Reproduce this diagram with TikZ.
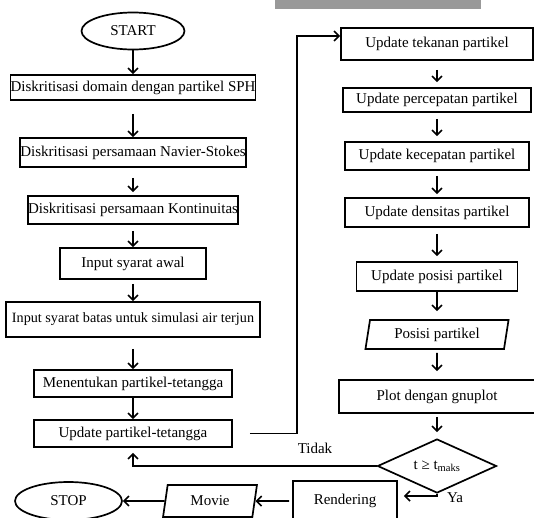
\documentclass[tikz,border=0pt]{standalone}
\usepackage{fontspec}
\setmainfont{Liberation Serif}
\usepackage{tikz}
\usetikzlibrary{positioning}
\usetikzlibrary{arrows.meta}
\usetikzlibrary{shapes.geometric}
\tikzset{%
  processBox/.style={rectangle, draw=black, line width=1.7pt, inner sep=0pt, align=center},
  %
  terminal/.style={ellipse, draw=black, line width=1.7pt, inner sep=0pt, align=center},
  ioBox/.style={trapezium, trapezium left angle=78, trapezium right angle=102, trapezium stretches=true, draw=black, line width=1.7pt, inner sep=0pt, align=center},
  decision/.style={diamond, aspect=2.2, draw=black, line width=1.7pt, inner sep=0pt, align=center},
  % ---
  % connectors
  % ---
  flow/.style={line width=1.6pt, -{Straight Barb[length=5pt,width=10pt]}},
  answer/.style={inner sep=0pt}
}

\begin{document}
\begin{tikzpicture}[x=1pt, y=-1pt, font=\fontsize{15}{17}\selectfont]
    \useasboundingbox (0,0) rectangle (534,517);
    \fill[black!40] (275,0) rectangle (481,9);

    % left column
    \node[terminal, minimum width=103pt, minimum height=37pt] (start) at (133,31) {START};
    \node[processBox, minimum width=245pt, minimum height=25pt] (domain) at (133,87.5) {Diskritisasi domain dengan partikel SPH};
    \node[processBox, minimum width=219pt, minimum height=29pt] (navier) at (133,152.5) {Diskritisasi persamaan Navier-Stokes};
    \node[processBox, minimum width=210pt, minimum height=28pt] (kontinuitas) at (133,210) {Diskritisasi persamaan Kontinuitas};
    \node[processBox, minimum width=146pt, minimum height=31pt] (awal) at (133,263.5) {Input syarat awal};
    \node[processBox, minimum width=254pt, minimum height=35pt, font=\fontsize{14.2}{17}\selectfont] (batas) at (133,319.5) {Input syarat batas untuk simulasi air terjun};
    \node[processBox, minimum width=198pt, minimum height=27pt] (tentukan) at (133,383.5) {Menentukan partikel-tetangga};
    \node[processBox, minimum width=198pt, minimum height=27pt] (tetangga) at (133,433.5) {Update partikel-tetangga};

    % right column
    \node[processBox, minimum width=192pt, minimum height=32pt] (tekanan) at (437,44) {Update tekanan partikel};
    \node[processBox, minimum width=188pt, minimum height=24pt] (percepatan) at (437,100) {Update percepatan partikel};
    \node[processBox, minimum width=184pt, minimum height=28pt] (kecepatan) at (437,156) {Update kecepatan partikel};
    \node[processBox, minimum width=184pt, minimum height=29pt] (densitas) at (437,212.5) {Update densitas partikel};
    \node[processBox, minimum width=161pt, minimum height=29pt] (posisi) at (437,276.5) {Update posisi partikel};
    \node[ioBox, minimum width=144pt, minimum height=29pt] (outPosisi) at (437,334.5) {Posisi partikel};
    \node[processBox, minimum width=196pt, minimum height=33pt] (plot) at (437,396.5) {Plot dengan gnuplot};
    \node[decision, minimum width=119pt, minimum height=54pt] (cek) at (437,466) {t ≥ t\textsubscript{maks}};

    % bottom row
    \node[processBox, minimum width=104pt, minimum height=40pt] (render) at (345,501) {Rendering};
    \node[ioBox, minimum width=94pt, minimum height=32pt] (movie) at (210,501) {Movie};
    \node[terminal, minimum width=107pt, minimum height=38pt] (stop) at (68.5,501) {STOP};

    \node[answer] (tidak) at (315,448) {Tidak};
    \node[answer] (ya) at (455,498) {Ya};

    \draw[flow] (start) -- (domain);
    \draw[flow, shorten <=13pt] (domain) -- (navier);
    \draw[flow, shorten <=10pt, shorten >=3pt] (navier) -- (kontinuitas);
    \draw[flow, shorten <=6pt] (kontinuitas) -- (awal);
    \draw[flow, shorten <=4pt] (awal) -- (batas);
    \draw[flow, shorten <=11pt] (batas) -- (tentukan);
    \draw[flow] (tentukan) -- (tetangga);

    \draw[flow, shorten <=17pt] (tetangga.east) -| ([xshift=-43pt,yshift=8pt]tekanan.west) -- ([yshift=8pt]tekanan.west);

    \draw[flow, shorten <=9pt, shorten >=5pt] (tekanan) -- (percepatan);
    \draw[flow, shorten <=6pt, shorten >=5pt] (percepatan) -- (kecepatan);
    \draw[flow, shorten <=5pt, shorten >=3pt] (kecepatan) -- (densitas);
    \draw[flow, shorten <=6pt, shorten >=5pt] (densitas) -- (posisi);
    \draw[flow, shorten >=8pt] (posisi) -- (outPosisi);
    \draw[flow, shorten <=3pt, shorten >=8pt] (outPosisi) -- (plot);
    \draw[flow, shorten <=3pt, shorten >=6pt] (plot) -- (cek);

    \draw[flow, shorten >=5pt] (cek.west) -| (tetangga.south);
    \draw[flow, shorten >=6pt] (cek.south) |- ([yshift=5pt]render.east);
    \draw[flow, shorten <=3pt] (render) -- (movie);
    \draw[flow] (movie) -- (stop);
  \end{tikzpicture}
\end{document}
